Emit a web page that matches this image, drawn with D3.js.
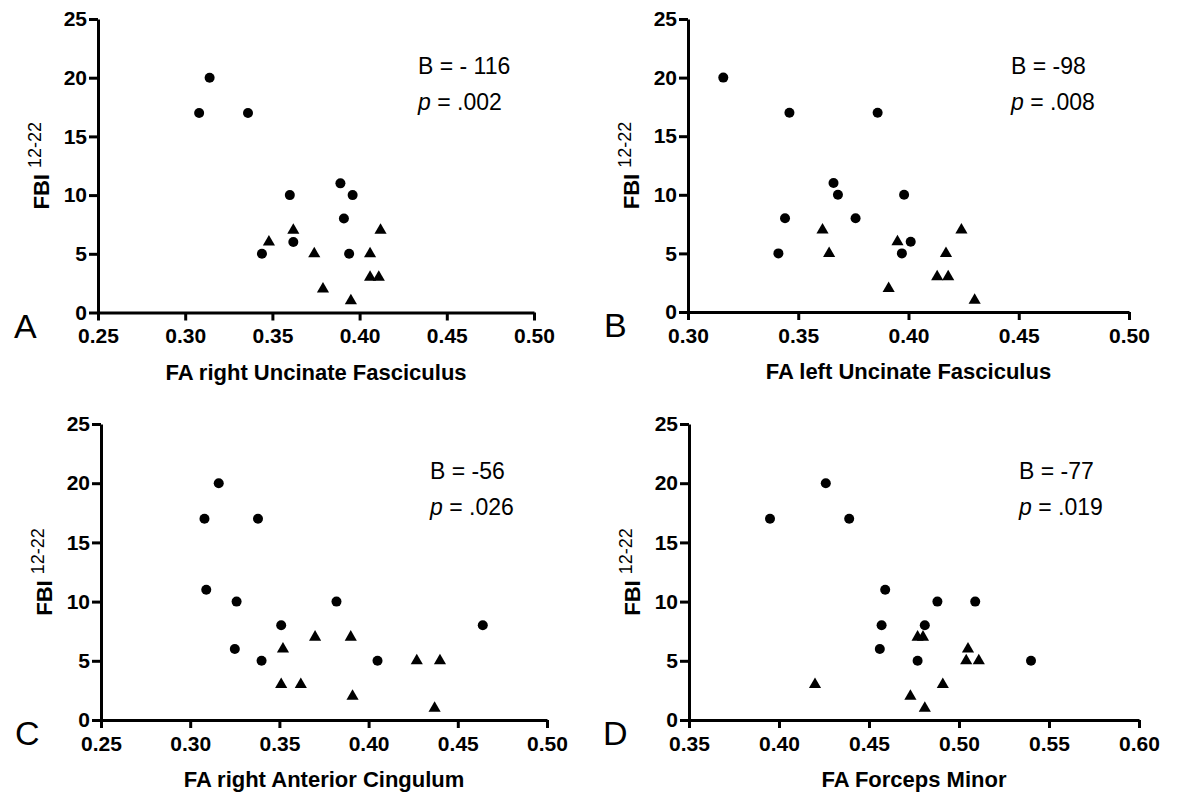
<!DOCTYPE html>
<html>
<head>
<meta charset="utf-8">
<script src="https://cdn.jsdelivr.net/npm/d3@7"></script>
<style>
  body { margin: 0; background: #fff; }
  svg { display: block; }
  .axis path, .axis line { stroke: #000; stroke-width: 3; }
  .axis text { font-family: "Liberation Sans", Arial, sans-serif; font-weight: bold; font-size: 21px; fill: #000; }
</style>
</head>
<body>
<svg id="chart" width="1177" height="795"></svg>
<script>
/* ******************** data ********************************************* */
// each point is [FA, FBI 12-22]
var aCircles   = [[0.308,17],[0.314,20],[0.336,17],[0.344,5],[0.360,10],[0.362,6],[0.389,11],[0.396,10],[0.391,8],[0.394,5]];
var aTriangles = [[0.348,6],[0.362,7],[0.374,5],[0.379,2],[0.395,1],[0.406,5],[0.406,3],[0.411,3],[0.412,7]];

var bCircles   = [[0.316,20],[0.346,17],[0.386,17],[0.366,11],[0.368,10],[0.398,10],[0.344,8],[0.376,8],[0.401,6],[0.397,5],[0.341,5]];
var bTriangles = [[0.361,7],[0.364,5],[0.395,6],[0.391,2],[0.413,3],[0.418,3],[0.417,5],[0.424,7],[0.430,1]];

var cCircles   = [[0.308,17],[0.316,20],[0.338,17],[0.309,11],[0.326,10],[0.382,10],[0.351,8],[0.325,6],[0.340,5],[0.405,5],[0.464,8]];
var cTriangles = [[0.352,6],[0.370,7],[0.390,7],[0.351,3],[0.362,3],[0.391,2],[0.427,5],[0.440,5],[0.437,1]];

var dCircles   = [[0.395,17],[0.426,20],[0.439,17],[0.459,11],[0.488,10],[0.509,10],[0.457,8],[0.481,8],[0.456,6],[0.477,5],[0.540,5]];
var dTriangles = [[0.420,3],[0.477,7],[0.480,7],[0.505,6],[0.504,5],[0.511,5],[0.491,3],[0.473,2],[0.481,1]];

// tick values
var yTicks   = [0, 5, 10, 15, 20, 25];
var xTicksAC = [0.25, 0.30, 0.35, 0.40, 0.45, 0.50];
var xTicksB  = [0.30, 0.35, 0.40, 0.45, 0.50];
var xTicksD  = [0.35, 0.40, 0.45, 0.50, 0.55, 0.60];

// texts
var panelLetters = ["A", "B", "C", "D"];
var xTitles = ["FA right Uncinate Fasciculus", "FA left Uncinate Fasciculus", "FA right Anterior Cingulum", "FA Forceps Minor"];
var bValues = ["B = - 116", "B = -98", "B = -56", "B = -77"];
var pValues = [" = .002", " = .008", " = .026", " = .019"];

/* ******************** panel layout ************************* */
var panels = [
  { left: 98,  right: 534,  top: 19,  bottom: 312.5, ticks: xTicksAC, circles: aCircles, triangles: aTriangles, letterX: 14,  statX: 418 },
  { left: 688, right: 1129, top: 19,  bottom: 312,   ticks: xTicksB,  circles: bCircles, triangles: bTriangles, letterX: 604, statX: 1011 },
  { left: 101, right: 547,  top: 424, bottom: 720,   ticks: xTicksAC, circles: cCircles, triangles: cTriangles, letterX: 15,  statX: 430 },
  { left: 689, right: 1139, top: 424, bottom: 720,   ticks: xTicksD,  circles: dCircles, triangles: dTriangles, letterX: 603, statX: 1019 }
];

var svg = d3.select("#chart");
var font = "'Liberation Sans', Arial, sans-serif";

function drawPanel(p, i) {
  var x = d3.scaleLinear()
    .domain([p.ticks[0], p.ticks[p.ticks.length - 1]])
    .range([p.left, p.right]);
  var y = d3.scaleLinear().domain([0, 25]).range([p.bottom, p.top]);

  // axes
  svg.append("g")
    .attr("class", "axis")
    .attr("transform", "translate(0," + p.bottom + ")")
    .call(d3.axisBottom(x).tickValues(p.ticks).tickFormat(d3.format(".2f"))
      .tickSizeInner(8).tickSizeOuter(0).tickPadding(8));

  svg.append("g")
    .attr("class", "axis")
    .attr("transform", "translate(" + p.left + ",0)")
    .call(d3.axisLeft(y).tickValues(yTicks).tickFormat(d3.format("d"))
      .tickSizeInner(9).tickSizeOuter(0).tickPadding(2));

  // points
  svg.append("g").selectAll("circle")
    .data(p.circles)
    .enter().append("circle")
      .attr("cx", function(d) { return x(d[0]); })
      .attr("cy", function(d) { return y(d[1]); })
      .attr("r", 5)
      .attr("fill", "#000");

  svg.append("g").selectAll("path")
    .data(p.triangles)
    .enter().append("path")
      .attr("d", d3.symbol().type(d3.symbolTriangle).size(64))
      .attr("transform", function(d) { return "translate(" + x(d[0]) + "," + y(d[1]) + ")"; })
      .attr("fill", "#000");

  // x title
  svg.append("text")
    .attr("x", (p.left + p.right) / 2)
    .attr("y", p.bottom + 67)
    .attr("text-anchor", "middle")
    .style("font-family", font).style("font-weight", "bold").style("font-size", "22px")
    .text(xTitles[i]);

  // y title with superscript
  var yt = svg.append("text")
    .attr("transform", "translate(" + (p.left - 49) + "," + ((p.top + p.bottom) / 2) + ") rotate(-90)")
    .attr("text-anchor", "middle")
    .style("font-family", font).style("font-weight", "bold").style("font-size", "22px");
  yt.append("tspan").text("FBI ");
  yt.append("tspan").attr("dy", -8).style("font-size", "18px").style("font-weight", "normal").text("12-22");

  // panel letter
  svg.append("text")
    .attr("x", p.letterX)
    .attr("y", p.bottom + 25)
    .style("font-family", font).style("font-size", "34px")
    .text(panelLetters[i]);

  // statistics
  svg.append("text")
    .attr("x", p.statX)
    .attr("y", p.top + 55)
    .style("font-family", font).style("font-size", "23px")
    .text(bValues[i]);
  var pt = svg.append("text")
    .attr("x", p.statX)
    .attr("y", p.top + 91)
    .style("font-family", font).style("font-size", "23px");
  pt.append("tspan").style("font-style", "italic").text("p");
  pt.append("tspan").text(pValues[i]);
}

panels.forEach(drawPanel);
</script>
</body>
</html>
